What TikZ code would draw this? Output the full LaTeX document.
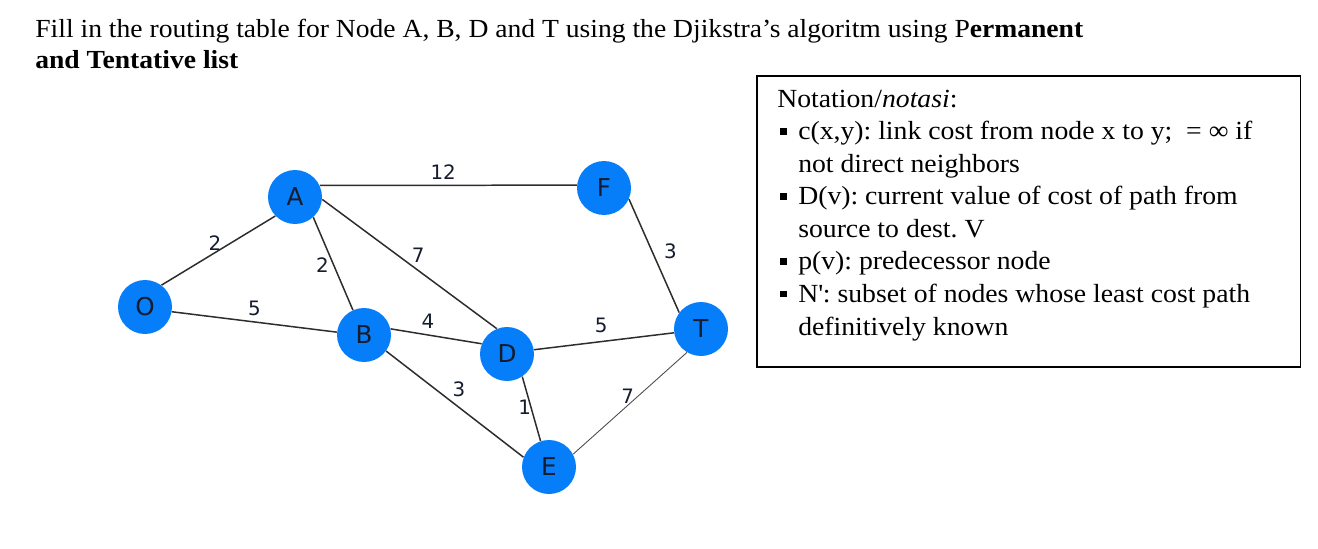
\documentclass[tikz,border=0pt]{standalone}
\usepackage{fontspec}
\setmainfont[FakeStretch=1.06]{Liberation Serif}
\newfontfamily\graphfont{DejaVu Sans}
\newcommand{\routerfont}{\graphfont\fontsize{14}{16}\selectfont}
\newcommand{\costfont}{\graphfont\fontsize{11.3}{13}\selectfont}
\newcommand{\sqbul}{\makebox[11.9pt][l]{\hspace{1.6pt}\rule[3pt]{3.8pt}{3.8pt}}}
\newcommand{\ind}{\hspace*{11.9pt}}
\definecolor{nodeblue}{RGB}{6,126,250}
\definecolor{linkgray}{RGB}{45,45,45}
\definecolor{labelink}{RGB}{20,28,45}
\begin{document}
\begin{tikzpicture}[x=0.02cm,y=-0.02cm,
  router/.style={circle,fill=nodeblue,inner sep=0pt,minimum size=1.08cm,text=labelink,font=\routerfont},
  link/.style={draw=linkgray,line width=0.85pt},
  cost/.style={font=\costfont,text=labelink,inner sep=1pt}]
\useasboundingbox (0,0) rectangle (1318,548);
% task text
\node[anchor=base west,align=left,inner sep=0pt,font=\fontsize{14.82}{17.6}\selectfont] (task) at (35,68)
  {Fill in the routing table for Node A, B, D and T using the Djikstra’s algoritm using P\textbf{ermanent}\\
   \textbf{and Tentative list}};
% network
\node[router] (O) at (145,307) {O};
\node[router] (A) at (295,197) {A};
\node[router] (B) at (364,335) {B};
\node[router] (F) at (604,188) {F};
\node[router] (D) at (507,354) {D};
\node[router] (T) at (701,329) {T};
\node[router] (E) at (549,467) {E};
\draw[link] (O.53) -- node[cost,pos=.47,above]{2} (A.224);
\draw[link] (A.312) -- node[cost,pos=.52,left=1.5pt]{2} (B.114);
\draw[link] (A.355) -- node[cost,pos=.55,above=3pt]{7} (D.112);
\draw[link] (A.25) -- node[cost,pos=.48,above=2pt]{12} (F.174);
\draw[link] (O.350) -- node[cost,pos=.5,above=2pt]{5} (B.174);
\draw[link] (B.13) -- node[cost,pos=.41,above=2.5pt]{4} (D.158);
\draw[link] (D.9) -- node[cost,pos=.48,above=3.5pt]{5} (T.188);
\draw[link] (B.324) -- node[cost,pos=.53,above=4.5pt]{3} (E.159);
\draw[link] (D.304) -- node[cost,pos=.47,left=-1.5pt]{1} (E.108);
\draw[link,line width=0.5pt,draw=linkgray!85] (E.28) -- node[cost,pos=.48,above]{7} (T.239);
\draw[link] (F.336) -- node[cost,pos=.46,right=5.5pt]{3} (T.143);
% notation box
\node[draw,line width=0.9pt,anchor=north west,minimum width=10.88cm,minimum height=5.82cm] (legend) at (756,75) {};
\node[anchor=base west,align=left,inner sep=0pt,font=\fontsize{14.88}{18.5}\selectfont\frenchspacing] (notes) at (777,335)
  {Notation/\textit{notasi}:\\
   \sqbul c(x,y): link cost from node x to y;\ \ = ∞ if\\
   \ind not direct neighbors\\
   \sqbul D(v): current value of cost of path from\\
   \ind source to dest. V\\
   \sqbul p(v): predecessor node\\
   \sqbul N\textquotesingle: subset of nodes whose least cost path\\
   \ind definitively known};
\end{tikzpicture}
\end{document}
